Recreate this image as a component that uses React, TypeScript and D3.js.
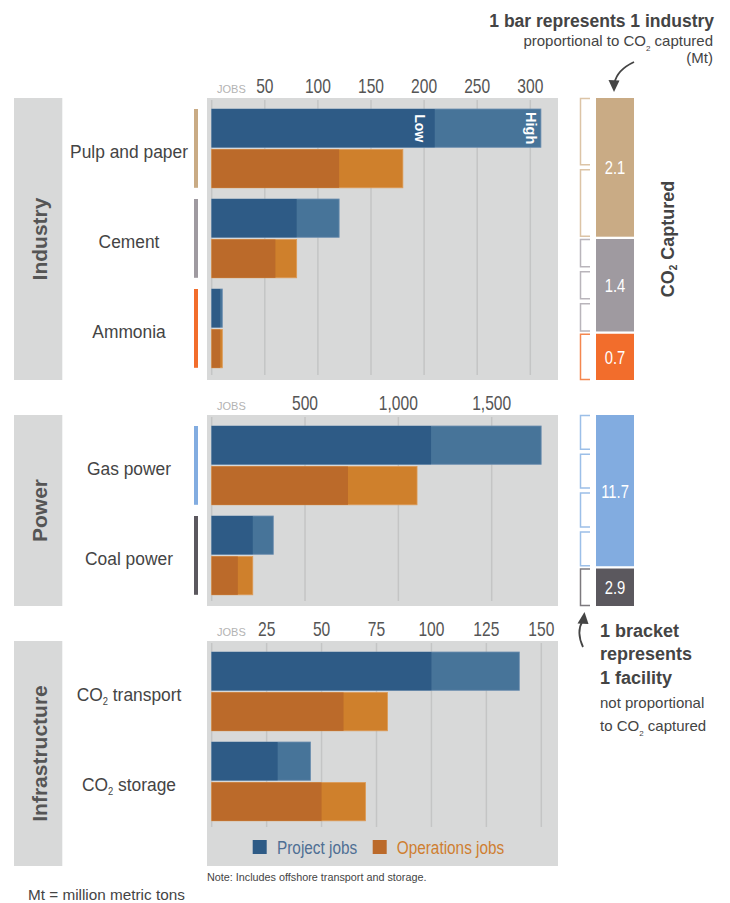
import React from "react";
import * as d3 from "d3";

// ---------- DATA ----------
const industryCats = ["Pulp and paper", "Cement", "Ammonia"];
const industryProjectLow = [210, 80, 8];
const industryProjectHigh = [310, 120, 10];
const industryOpsLow = [120, 60, 8];
const industryOpsHigh = [180, 80, 10];
const industryTicks = [50, 100, 150, 200, 250, 300];
const industryTickLabels = ["50", "100", "150", "200", "250", "300"];
const industryCO2 = [2.1, 1.4, 0.7];
const industryFacilities = [2, 3, 1];

const powerCats = ["Gas power", "Coal power"];
const powerProjectLow = [1175, 220];
const powerProjectHigh = [1765, 330];
const powerOpsLow = [730, 140];
const powerOpsHigh = [1100, 220];
const powerTicks = [500, 1000, 1500];
const powerTickLabels = ["500", "1,000", "1,500"];
const powerCO2 = [11.7, 2.9];
const powerFacilities = [4, 1];

const infraCats = ["transport", "storage"];
const infraProjectLow = [100, 30];
const infraProjectHigh = [140, 45];
const infraOpsLow = [60, 50];
const infraOpsHigh = [80, 70];
const infraTicks = [25, 50, 75, 100, 125, 150];
const infraTickLabels = ["25", "50", "75", "100", "125", "150"];

// ---------- STYLE ----------
const C = {
  bg: "#d8d9d9",
  grid: "#c4c5c5",
  projLow: "#2e5b86",
  projHigh: "#477499",
  opsLow: "#bb6a2a",
  opsHigh: "#cf802c",
  text: "#444444",
  section: "#555555",
  tick: "#555555",
  jobs: "#b3b3b3",
};
const FONT = "'Liberation Sans', Arial, sans-serif";

const industryBarColors = ["#c9ab85", "#9f9aa0", "#f26d2c"];
const industryBracketColors = ["#dcc4a6", "#b9b5bb", "#f4874f"];
const powerBarColors = ["#82ace0", "#5b585e"];
const powerBracketColors = ["#9cbfe8", "#7c797e"];

type Panel = {
  name: string;
  cats: string[];
  co2Label: boolean;
  pl: number[];
  ph: number[];
  ol: number[];
  oh: number[];
  ticks: number[];
  tickLabels: string[];
  max: number;
  x1: number;
  top: number;
  bottom: number;
  gridBottom: number;
  lineColors?: string[];
};

const panels: Panel[] = [
  {
    name: "Industry", cats: industryCats, co2Label: false,
    pl: industryProjectLow, ph: industryProjectHigh, ol: industryOpsLow, oh: industryOpsHigh,
    ticks: industryTicks, tickLabels: industryTickLabels, max: 300, x1: 530.3,
    top: 98, bottom: 380, gridBottom: 375, lineColors: industryBarColors,
  },
  {
    name: "Power", cats: powerCats, co2Label: false,
    pl: powerProjectLow, ph: powerProjectHigh, ol: powerOpsLow, oh: powerOpsHigh,
    ticks: powerTicks, tickLabels: powerTickLabels, max: 1500, x1: 491.7,
    top: 415, bottom: 606, gridBottom: 601, lineColors: powerBarColors,
  },
  {
    name: "Infrastructure", cats: infraCats, co2Label: true,
    pl: infraProjectLow, ph: infraProjectHigh, ol: infraOpsLow, oh: infraOpsHigh,
    ticks: infraTicks, tickLabels: infraTickLabels, max: 150, x1: 541.3,
    top: 641, bottom: 866, gridBottom: 827,
  },
];

const X0 = 211.7;
const BG_X0 = 207;
const BG_X1 = 558;

function NText(props: { x: number; y: number; s?: number; anchor?: string; size: number; fill: string; weight?: string; children: any; db?: string }) {
  const { x, y, s = 1, anchor = "middle", size, fill, weight = "normal", children, db } = props;
  return (
    <text
      transform={`translate(${x},${y}) scale(${s},1)`}
      textAnchor={anchor}
      fontSize={size}
      fill={fill}
      fontWeight={weight}
      fontFamily={FONT}
      dominantBaseline={db}
    >
      {children}
    </text>
  );
}

function PanelView({ p }: { p: Panel }) {
  const x = d3.scaleLinear().domain([0, p.max]).range([X0, p.x1]);
  const band = d3
    .scaleBand<string>()
    .domain(p.cats)
    .range([p.top + 11, p.top + 11 + p.cats.length * 90])
    .padding(0);
  const grid = [0, ...p.ticks];
  const labelX = 129;
  return (
    <g>
      {/* left section block */}
      <rect x={14} y={p.top} width={48.3} height={p.bottom - p.top} fill={C.bg} />
      <text
        transform={`translate(39,${(p.top + p.bottom) / 2}) rotate(-90)`}
        textAnchor="middle"
        dominantBaseline="central"
        fontSize={21}
        fontWeight="bold"
        fill={C.section}
        fontFamily={FONT}
      >
        {p.name}
      </text>
      {/* panel background */}
      <rect x={BG_X0} y={p.top} width={BG_X1 - BG_X0} height={p.bottom - p.top} fill={C.bg} />
      {/* grid */}
      {grid.map((t) => (
        <line key={t} x1={x(t)} x2={x(t)} y1={p.top + 2} y2={p.gridBottom} stroke={C.grid} strokeWidth={1.5} />
      ))}
      {/* ticks */}
      <text x={217} y={p.top - 5} fontSize={11} fill={C.jobs} fontFamily={FONT}>JOBS</text>
      {p.ticks.map((t, i) => (
        <NText key={t} x={x(t)} y={p.top - 5} s={0.78} size={20} fill={C.tick}>
          {p.tickLabels[i]}
        </NText>
      ))}
      {/* bars */}
      {p.cats.map((c, i) => {
        const y0 = band(c)!;
        const yo = y0 + 40.5;
        const h = 38.3;
        const cy = y0 + 43;
        return (
          <g key={c}>
            <rect x={X0} y={y0} width={x(p.ph[i]) - X0} height={h} fill={C.projHigh} stroke="#6d8fb0" strokeWidth={0.8} />
            <rect x={X0} y={y0} width={x(p.pl[i]) - X0} height={h} fill={C.projLow} />
            <rect x={X0} y={yo} width={x(p.oh[i]) - X0} height={h} fill={C.opsHigh} stroke="#dd9a55" strokeWidth={0.8} />
            <rect x={X0} y={yo} width={x(p.ol[i]) - X0} height={h} fill={C.opsLow} />
            {p.lineColors && (
              <line x1={196} x2={196} y1={y0} y2={yo + h} stroke={p.lineColors[i]} strokeWidth={4} />
            )}
            {p.co2Label ? (
              <text
                transform={`translate(${labelX},${cy}) scale(0.94,1)`}
                textAnchor="middle"
                dominantBaseline="central"
                fontSize={18.5}
                fill={C.text}
                fontFamily={FONT}
              >
                CO<tspan fontSize={10} dy={6}>2</tspan>
                <tspan dy={-6}> {c}</tspan>
              </text>
            ) : (
              <text
                transform={`translate(${labelX},${cy}) scale(0.94,1)`}
                textAnchor="middle"
                dominantBaseline="central"
                fontSize={18.5}
                fill={C.text}
                fontFamily={FONT}
              >
                {c}
              </text>
            )}
            {p.name === "Industry" && i === 0 && (
              <g>
                <text
                  transform={`translate(${x(p.pl[i]) - 20},${y0 + h / 2}) rotate(90)`}
                  textAnchor="middle"
                  fontSize={14}
                  fontWeight="bold"
                  fill="#ffffff"
                  fontFamily={FONT}
                >
                  Low
                </text>
                <text
                  transform={`translate(${x(p.ph[i]) - 15},${y0 + h / 2}) rotate(90)`}
                  textAnchor="middle"
                  fontSize={14.5}
                  fontWeight="bold"
                  fill="#ffffff"
                  fontFamily={FONT}
                >
                  High
                </text>
              </g>
            )}
          </g>
        );
      })}
    </g>
  );
}

function CO2Column({ values, facilities, barColors, bracketColors, top, bottom }: {
  values: number[]; facilities: number[]; barColors: string[]; bracketColors: string[]; top: number; bottom: number;
}) {
  const gap = 2.3;
  const total = d3.sum(values);
  const h = d3.scaleLinear().domain([0, total]).range([0, bottom - top - gap * (values.length - 1)]);
  let cursor = top;
  return (
    <g>
      {values.map((v, i) => {
        const y0 = cursor;
        const hh = h(v);
        cursor += hh + gap;
        const n = facilities[i];
        const bgap = 4;
        const bh = (hh - bgap * (n - 1)) / n;
        return (
          <g key={i}>
            <rect x={596} y={y0} width={38} height={hh} fill={barColors[i]} />
            <NText x={615} y={y0 + hh / 2 + 1} s={0.8} size={18.5} fill="#ffffff" db="central">
              {String(v)}
            </NText>
            {d3.range(n).map((k) => {
              const b0 = y0 + k * (bh + bgap) + 0.5;
              const b1 = b0 + bh - 1;
              return (
                <path
                  key={k}
                  d={`M590,${b0}H580.5V${b1}H590`}
                  fill="none"
                  stroke={bracketColors[i]}
                  strokeWidth={1.5}
                />
              );
            })}
          </g>
        );
      })}
    </g>
  );
}

export default function App() {
  return (
    <svg
      width={730}
      height={903}
      style={{ position: "absolute", left: 0, top: 0, background: "#ffffff" }}
      fontFamily={FONT}
    >
      {panels.map((p) => (
        <PanelView key={p.name} p={p} />
      ))}

      {/* legend */}
      <rect x={252.7} y={840} width={14} height={14} fill={C.projLow} />
      <NText x={277} y={853.5} s={0.83} anchor="start" size={18.5} fill="#4f6f94">Project jobs</NText>
      <rect x={372.7} y={840} width={14} height={14} fill={C.opsLow} />
      <NText x={396.7} y={853.5} s={0.83} anchor="start" size={18.5} fill="#cf7e30">Operations jobs</NText>

      <text x={207} y={880.7} fontSize={10.8} fill={C.text}>Note: Includes offshore transport and storage.</text>
      <text x={28} y={900} fontSize={15.3} fill={C.text}>Mt = million metric tons</text>

      {/* CO2 columns */}
      <CO2Column values={industryCO2} facilities={industryFacilities} barColors={industryBarColors} bracketColors={industryBracketColors} top={98} bottom={380} />
      <CO2Column values={powerCO2} facilities={powerFacilities} barColors={powerBarColors} bracketColors={powerBracketColors} top={415} bottom={606} />

      <text
        transform="translate(668,239) rotate(-90)"
        textAnchor="middle"
        dominantBaseline="central"
        fontSize={18}
        fontWeight="bold"
        fill={C.text}
      >
        CO<tspan fontSize={10} dy={5}>2</tspan>
        <tspan dy={-5}> Captured</tspan>
      </text>

      {/* top annotation */}
      <text x={714} y={27} textAnchor="end" fontSize={17.5} fontWeight="bold" fill={C.text}>1 bar represents 1 industry</text>
      <text x={713} y={46} textAnchor="end" fontSize={15} fill={C.text}>
        proportional to CO<tspan fontSize={8} dy={5}>2</tspan>
        <tspan dy={-5}> captured</tspan>
      </text>
      <text x={713} y={63} textAnchor="end" fontSize={15} fill={C.text}>(Mt)</text>
      <path d="M634,62 Q617,70 614.5,83" fill="none" stroke={C.text} strokeWidth={1.8} />
      <path d="M614,92 L608.5,80 L619.5,80.5 Z" fill={C.text} />

      {/* bottom annotation */}
      <path d="M583,647 Q576,632 582.5,621" fill="none" stroke={C.text} strokeWidth={1.8} />
      <path d="M584.5,612 L577.5,623.5 L588.5,624 Z" fill={C.text} />
      <text x={600} y={637} fontSize={18} fontWeight="bold" fill={C.text}>1 bracket</text>
      <text x={600} y={660} fontSize={18} fontWeight="bold" fill={C.text}>represents</text>
      <text x={600} y={684} fontSize={18} fontWeight="bold" fill={C.text}>1 facility</text>
      <text x={600} y={708} fontSize={15} fill={C.text}>not proportional</text>
      <text x={600} y={731} fontSize={15} fill={C.text}>
        to CO<tspan fontSize={8} dy={5}>2</tspan>
        <tspan dy={-5}> captured</tspan>
      </text>
    </svg>
  );
}
